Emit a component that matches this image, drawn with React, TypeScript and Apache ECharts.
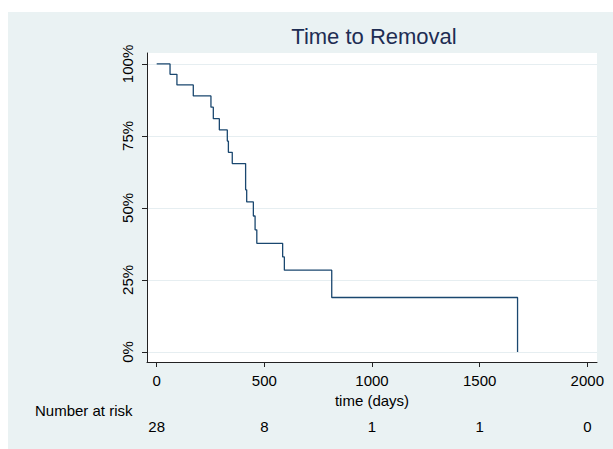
import React, { useEffect, useRef } from "react";
import * as echarts from "echarts";

// Kaplan-Meier step points: time (days) and survival (%) after each event
const times = [0, 62, 94, 170, 252, 263, 291, 328, 333, 351, 413, 418, 449, 457, 465, 585, 593, 813, 1676];
const survival = [100, 96.4, 92.7, 88.9, 85.0, 81.0, 77.1, 73.2, 69.3, 65.4, 56.3, 52.1, 47.2, 42.4, 37.7, 33.0, 28.4, 18.9, 0];

const xTicks = [0, 500, 1000, 1500, 2000];
const atRisk = [28, 8, 1, 1, 0];
const yTicks = [0, 25, 50, 75, 100];

const FONT = "'Liberation Sans', Arial, Helvetica, sans-serif";

export default function App() {
  const ref = useRef<HTMLDivElement>(null);

  useEffect(() => {
    const chart = echarts.init(ref.current!, null, { renderer: "svg" });
    const axisColor = "#222";
    const fs = 15;
    chart.setOption({
      animation: false,
      backgroundColor: "#EAF2F3",
      textStyle: { fontFamily: FONT },
      title: {
        text: "Time to Removal",
        left: 361,
        top: 8,
        textAlign: "center",
        textStyle: { fontSize: 22, fontWeight: "normal", color: "#1e2d53", fontFamily: FONT },
      },
      grid: {
        left: 139,
        right: 16,
        top: 41,
        bottom: 87,
        show: true,
        backgroundColor: "#ffffff",
        borderWidth: 0,
      },
      xAxis: [
        {
          type: "value",
          min: -45,
          max: 2045,
          name: "time (days)",
          nameLocation: "middle",
          nameGap: 27,
          nameTextStyle: { fontSize: fs, color: "#000", fontFamily: FONT },
          axisLine: { show: true, onZero: false, lineStyle: { color: axisColor, width: 1 } },
          axisTick: { show: true, length: 5, customValues: xTicks, lineStyle: { color: axisColor, width: 1 } },
          axisLabel: {
            customValues: xTicks,
            margin: 11,
            fontSize: fs,
            color: "#000",
            fontFamily: FONT,
            formatter: (v: number) => String(v),
          },
          splitLine: { show: false },
        },
        {
          type: "value",
          min: -45,
          max: 2045,
          position: "bottom",
          axisLine: { show: false },
          axisTick: { show: false },
          splitLine: { show: false },
          axisLabel: {
            customValues: xTicks,
            margin: 57,
            fontSize: fs,
            color: "#000",
            fontFamily: FONT,
            formatter: (v: number) => String(atRisk[xTicks.indexOf(v)]),
          },
        },
      ],
      yAxis: {
        type: "value",
        min: -3.5,
        max: 103.8,
        axisLine: { show: true, onZero: false, lineStyle: { color: axisColor, width: 1 } },
        axisTick: { show: true, length: 5, customValues: yTicks, lineStyle: { color: axisColor, width: 1 } },
        axisLabel: {
          customValues: yTicks,
          rotate: 90,
          margin: 12,
          fontSize: fs,
          color: "#000",
          fontFamily: FONT,
          formatter: (v: number) => v + "%",
        },
        splitLine: { show: true, lineStyle: { color: "#E6EEF1", width: 1 } },
      },
      graphic: [
        {
          type: "text",
          left: 27,
          top: 391,
          style: { text: "Number at risk", fontSize: fs, fill: "#000", fontFamily: FONT },
        },
      ],
      series: [
        {
          type: "line",
          step: "end",
          xAxisIndex: 0,
          yAxisIndex: 0,
          data: times.map((t, i) => [t, survival[i]]),
          symbol: "none",
          showSymbol: false,
          lineStyle: { color: "#1a476f", width: 1.3 },
        },
      ],
    });
    return () => chart.dispose();
  }, []);

  return (
    <div
      ref={ref}
      style={{ position: "absolute", left: 8, top: 12, width: 605, height: 437 }}
    />
  );
}
